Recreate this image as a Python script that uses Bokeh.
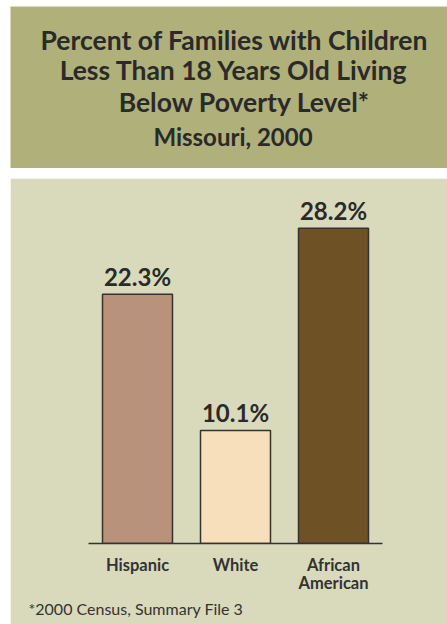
from bokeh.plotting import figure
from bokeh.layouts import column
from bokeh.models import FactorRange, Range1d, Title, ColumnDataSource
from bokeh.core.properties import value
from bokeh.embed import file_html
from bokeh.resources import INLINE

categories = ["Hispanic", "White", "African\nAmerican"]
percents = [22.3, 10.1, 28.2]
bar_colors = ["#B8927A", "#F8DFBB", "#6E5225"]
labels = [f"{v:.1f}%" for v in percents]

title_lines = ["Percent of Families with Children",
               "Less Than 18 Years Old Living",
               "Below Poverty Level*"]
subtitle = "Missouri, 2000"
footnote = "*2000 Census, Summary File 3"

TITLE_BG = "#AFB07A"
PANEL_BG = "#D9DABC"
DARK = "#2A2A2A"
FONT = "Lato"

W = 437

# ---- title block (pixel coordinates, y measured from top)
t = figure(width=W, height=162, output_backend="svg", toolbar_location=None,
           x_range=Range1d(0, W), y_range=Range1d(162, 0), min_border=0)
t.frame_align = False
t.axis.visible = False
t.grid.visible = False
t.background_fill_color = TITLE_BG
t.border_fill_color = TITLE_BG
t.outline_line_color = None
t.text(x=[224, 223.5, 234], y=[43, 73, 105], text=title_lines,
       text_font=value(FONT), text_font_style="bold", text_font_size="26.5px",
       text_color=DARK, text_align="center", text_baseline="alphabetic",
       y_offset=-10)
t.text(x=[222.5], y=[138.5], text=[subtitle],
       text_font=value(FONT), text_font_style="bold", text_font_size="24px",
       text_color=DARK, text_align="center", text_baseline="alphabetic",
       y_offset=-9)

# ---- chart block
p = figure(width=W, height=446, output_backend="svg", toolbar_location=None,
           x_range=FactorRange(*categories, range_padding=0),
           y_range=Range1d(0, 30.86),
           min_border_left=78, min_border_right=65,
           min_border_top=20, min_border_bottom=81)
p.frame_align = False
p.background_fill_color = PANEL_BG
p.border_fill_color = PANEL_BG
p.outline_line_color = PANEL_BG
p.outline_line_width = 2
p.grid.visible = False
p.yaxis.visible = False

src = ColumnDataSource(dict(cat=categories, val=percents, color=bar_colors, label=labels))
p.vbar(x="cat", top="val", width=0.714, source=src, fill_color="color",
       line_color="#333333", line_width=1.5)
p.text(x="cat", y="val", text="label", source=src, y_offset=-18,
       text_font=value(FONT), text_font_style="bold", text_font_size="24px",
       text_color=DARK, text_align="center", text_baseline="alphabetic")

xa = p.xaxis[0]
xa.axis_line_color = "#333333"
xa.axis_line_width = 1.5
xa.major_tick_line_color = None
xa.minor_tick_line_color = None
xa.major_label_text_font = FONT
xa.major_label_text_font_style = "bold"
xa.major_label_text_font_size = "16.5px"
xa.major_label_text_color = "#333333"
xa.major_label_text_line_height = 0.9
xa.major_label_standoff = 5

p.add_layout(Title(text=footnote, align="left", offset=-60, standoff=3,
                   text_font=FONT, text_font_style="normal", text_font_size="16px",
                   text_color="#333333"), "below")

layout = column(t, p, spacing=10, margin=(6, 0, 0, 10))
open("out.html", "w").write(file_html(layout, INLINE))
